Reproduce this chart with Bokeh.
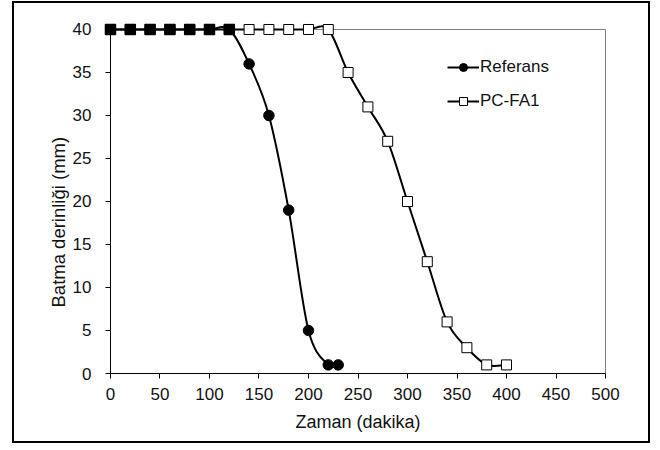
from bokeh.plotting import figure
from bokeh.models import (Legend, LegendItem, ColumnDataSource, FixedTicker,
                          Range1d, LinearAxis, Title)
from bokeh.embed import file_html
from bokeh.resources import INLINE

# ---- data ----
ref_time = [0, 20, 40, 60, 80, 100, 120, 140, 160, 180, 200, 220, 230]
ref_depth = [40, 40, 40, 40, 40, 40, 40, 36, 30, 19, 5, 1, 1]
ref_marker = ["square"] * 7 + ["circle"] * 6

pc_time = [0, 20, 40, 60, 80, 100, 120, 140, 160, 180, 200, 220,
           240, 260, 280, 300, 320, 340, 360, 380, 400]
pc_depth = [40, 40, 40, 40, 40, 40, 40, 40, 40, 40, 40, 40,
            35, 31, 27, 20, 13, 6, 3, 1, 1]

x_ticks = [0, 50, 100, 150, 200, 250, 300, 350, 400, 450, 500]
y_ticks = [0, 5, 10, 15, 20, 25, 30, 35, 40]

x_title = "Zaman (dakika)"
y_title = "Batma derinliği (mm)"
labels = ["Referans", "PC-FA1"]

FONT = "Liberation Sans"
TXT = "#111111"


def smooth_segments(xs, ys):
    """Bezier control points of a smoothed line through the given points."""
    n = len(xs)
    out = dict(x0=[], y0=[], x1=[], y1=[], cx0=[], cy0=[], cx1=[], cy1=[])
    for i in range(n - 1):
        a = max(i - 1, 0)
        d = min(i + 2, n - 1)
        out["x0"].append(xs[i]); out["y0"].append(ys[i])
        out["x1"].append(xs[i + 1]); out["y1"].append(ys[i + 1])
        out["cx0"].append(xs[i] + (xs[i + 1] - xs[a]) / 6.0)
        out["cy0"].append(ys[i] + (ys[i + 1] - ys[a]) / 6.0)
        out["cx1"].append(xs[i + 1] - (xs[d] - xs[i]) / 6.0)
        out["cy1"].append(ys[i + 1] - (ys[d] - ys[i]) / 6.0)
    return out


p = figure(width=638, height=442, output_backend="svg", toolbar_location=None,
           x_range=Range1d(-8.08, 508.08), y_range=Range1d(0, 40.93),
           min_border_left=88, min_border_right=39, min_border_top=18,
           min_border_bottom=72)
p.styles = {"border": "2px solid black", "margin-left": "12px",
            "margin-top": "1px"}
p.outline_line_color = None
p.grid.visible = False
p.background_fill_color = "white"
p.border_fill_color = "white"

# x axis (at the bottom edge of the frame)
xa = p.xaxis[0]
xa.ticker = FixedTicker(ticks=x_ticks)
xa.bounds = (0, 500)
xa.axis_line_color = "black"
xa.major_tick_line_color = "black"
xa.major_tick_out = 5
xa.major_tick_in = 0
xa.minor_tick_line_color = None
xa.major_label_standoff = 9
xa.axis_label = x_title
xa.axis_label_standoff = 9

# y axis on the frame edge: ticks reach over to x = 0, labels beside them
ya = p.yaxis[0]
ya.ticker = FixedTicker(ticks=y_ticks)
ya.axis_line_color = None
ya.major_tick_line_color = "black"
ya.major_tick_out = -3
ya.major_tick_in = 8
ya.minor_tick_line_color = None
ya.major_label_standoff = 11

for ax in (xa, ya):
    ax.major_label_text_font = FONT
    ax.major_label_text_font_size = "17px"
    ax.major_label_text_color = TXT
    ax.axis_label_text_font = FONT
    ax.axis_label_text_font_size = "18px"
    ax.axis_label_text_font_style = "normal"
    ax.axis_label_text_color = TXT

y_line = LinearAxis(fixed_location=0, bounds=(0, 40), ticker=FixedTicker(ticks=[]),
                    axis_line_color="black", major_tick_line_color=None,
                    minor_tick_line_color=None, major_tick_out=11)
p.add_layout(y_line, "left")

top = LinearAxis(fixed_location=40, bounds=(0, 500), ticker=FixedTicker(ticks=[]),
                 axis_line_color="#808080", major_tick_line_color=None,
                 minor_tick_line_color=None, level="underlay")
right = LinearAxis(fixed_location=500, bounds=(0, 40), ticker=FixedTicker(ticks=[]),
                   axis_line_color="#808080", major_tick_line_color=None,
                   minor_tick_line_color=None, level="underlay")
p.add_layout(top, "above")
p.add_layout(right, "right")

# y axis title (placed lower than the frame centre, as in the reference)
p.add_layout(Title(text=y_title, align="left", offset=66, vertical_align="middle",
                   standoff=0, text_font=FONT, text_font_size="18.5px",
                   text_font_style="normal", text_color=TXT), "left")

# series
pc_bez = p.bezier(source=ColumnDataSource(smooth_segments(pc_time, pc_depth)),
                  x0="x0", y0="y0", x1="x1", y1="y1", cx0="cx0", cy0="cy0",
                  cx1="cx1", cy1="cy1", line_color="black", line_width=2)
pc_sc = p.scatter(pc_time, pc_depth, marker="square", size=10,
                  fill_color="white", line_color="black", line_width=1)

ref_bez = p.bezier(source=ColumnDataSource(smooth_segments(ref_time, ref_depth)),
                   x0="x0", y0="y0", x1="x1", y1="y1", cx0="cx0", cy0="cy0",
                   cx1="cx1", cy1="cy1", line_color="black", line_width=2)
ref_src = ColumnDataSource(dict(t=ref_time, d=ref_depth, m=ref_marker))
ref_sc = p.scatter(x="t", y="d", marker="m", source=ref_src, size=10.5,
                   fill_color="black", line_color="black")

legend = Legend(items=[LegendItem(label=labels[0], renderers=[ref_bez, ref_sc], index=7),
                       LegendItem(label=labels[1], renderers=[pc_bez, pc_sc], index=0)],
                location=(345, 262), padding=0, margin=0, spacing=14,
                glyph_width=32, glyph_height=20, label_height=20,
                label_standoff=1, label_text_font=FONT,
                label_text_font_size="17px", label_text_color=TXT,
                border_line_color=None, background_fill_alpha=0)
p.add_layout(legend)

open("out.html", "w").write(file_html(p, INLINE))
